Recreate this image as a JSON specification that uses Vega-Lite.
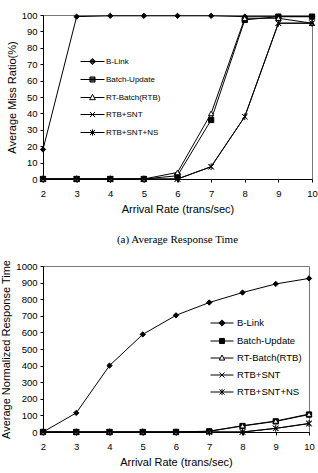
{
  "$schema": "https://vega.github.io/schema/vega-lite/v6.json",
  "padding": {"left": 0, "top": 9, "right": 2, "bottom": 3},
  "background": "white",
  "spacing": 13,
  "datasets": {
    "miss": [
      {"series": "B-Link", "rate": 2, "value": 18},
      {"series": "B-Link", "rate": 3, "value": 99},
      {"series": "B-Link", "rate": 4, "value": 99.5},
      {"series": "B-Link", "rate": 5, "value": 99.5},
      {"series": "B-Link", "rate": 6, "value": 99.5},
      {"series": "B-Link", "rate": 7, "value": 99.5},
      {"series": "B-Link", "rate": 8, "value": 99},
      {"series": "B-Link", "rate": 9, "value": 99},
      {"series": "B-Link", "rate": 10, "value": 99},
      {"series": "Batch-Update", "rate": 2, "value": 0},
      {"series": "Batch-Update", "rate": 3, "value": 0},
      {"series": "Batch-Update", "rate": 4, "value": 0},
      {"series": "Batch-Update", "rate": 5, "value": 0},
      {"series": "Batch-Update", "rate": 6, "value": 2},
      {"series": "Batch-Update", "rate": 7, "value": 36},
      {"series": "Batch-Update", "rate": 8, "value": 97},
      {"series": "Batch-Update", "rate": 9, "value": 99},
      {"series": "Batch-Update", "rate": 10, "value": 99},
      {"series": "RT-Batch(RTB)", "rate": 2, "value": 0},
      {"series": "RT-Batch(RTB)", "rate": 3, "value": 0},
      {"series": "RT-Batch(RTB)", "rate": 4, "value": 0},
      {"series": "RT-Batch(RTB)", "rate": 5, "value": 0},
      {"series": "RT-Batch(RTB)", "rate": 6, "value": 4},
      {"series": "RT-Batch(RTB)", "rate": 7, "value": 40},
      {"series": "RT-Batch(RTB)", "rate": 8, "value": 98},
      {"series": "RT-Batch(RTB)", "rate": 9, "value": 98},
      {"series": "RT-Batch(RTB)", "rate": 10, "value": 95},
      {"series": "RTB+SNT", "rate": 2, "value": 0},
      {"series": "RTB+SNT", "rate": 3, "value": 0},
      {"series": "RTB+SNT", "rate": 4, "value": 0},
      {"series": "RTB+SNT", "rate": 5, "value": 0},
      {"series": "RTB+SNT", "rate": 6, "value": 0},
      {"series": "RTB+SNT", "rate": 7, "value": 7.5},
      {"series": "RTB+SNT", "rate": 8, "value": 38},
      {"series": "RTB+SNT", "rate": 9, "value": 95},
      {"series": "RTB+SNT", "rate": 10, "value": 95},
      {"series": "RTB+SNT+NS", "rate": 2, "value": 0},
      {"series": "RTB+SNT+NS", "rate": 3, "value": 0},
      {"series": "RTB+SNT+NS", "rate": 4, "value": 0},
      {"series": "RTB+SNT+NS", "rate": 5, "value": 0},
      {"series": "RTB+SNT+NS", "rate": 6, "value": 0},
      {"series": "RTB+SNT+NS", "rate": 7, "value": 7.5},
      {"series": "RTB+SNT+NS", "rate": 8, "value": 38},
      {"series": "RTB+SNT+NS", "rate": 9, "value": 95},
      {"series": "RTB+SNT+NS", "rate": 10, "value": 95}
    ],
    "resp": [
      {"series": "B-Link", "rate": 2, "value": 0},
      {"series": "B-Link", "rate": 3, "value": 115},
      {"series": "B-Link", "rate": 4, "value": 400},
      {"series": "B-Link", "rate": 5, "value": 588},
      {"series": "B-Link", "rate": 6, "value": 703},
      {"series": "B-Link", "rate": 7, "value": 780},
      {"series": "B-Link", "rate": 8, "value": 840},
      {"series": "B-Link", "rate": 9, "value": 892},
      {"series": "B-Link", "rate": 10, "value": 925},
      {"series": "Batch-Update", "rate": 2, "value": 0},
      {"series": "Batch-Update", "rate": 3, "value": 0},
      {"series": "Batch-Update", "rate": 4, "value": 0},
      {"series": "Batch-Update", "rate": 5, "value": 0},
      {"series": "Batch-Update", "rate": 6, "value": 0},
      {"series": "Batch-Update", "rate": 7, "value": 4},
      {"series": "Batch-Update", "rate": 8, "value": 36},
      {"series": "Batch-Update", "rate": 9, "value": 64},
      {"series": "Batch-Update", "rate": 10, "value": 105},
      {"series": "RT-Batch(RTB)", "rate": 2, "value": 0},
      {"series": "RT-Batch(RTB)", "rate": 3, "value": 0},
      {"series": "RT-Batch(RTB)", "rate": 4, "value": 0},
      {"series": "RT-Batch(RTB)", "rate": 5, "value": 0},
      {"series": "RT-Batch(RTB)", "rate": 6, "value": 0},
      {"series": "RT-Batch(RTB)", "rate": 7, "value": 5},
      {"series": "RT-Batch(RTB)", "rate": 8, "value": 38},
      {"series": "RT-Batch(RTB)", "rate": 9, "value": 66},
      {"series": "RT-Batch(RTB)", "rate": 10, "value": 108},
      {"series": "RTB+SNT", "rate": 2, "value": 0},
      {"series": "RTB+SNT", "rate": 3, "value": 0},
      {"series": "RTB+SNT", "rate": 4, "value": 0},
      {"series": "RTB+SNT", "rate": 5, "value": 0},
      {"series": "RTB+SNT", "rate": 6, "value": 0},
      {"series": "RTB+SNT", "rate": 7, "value": 0},
      {"series": "RTB+SNT", "rate": 8, "value": 0},
      {"series": "RTB+SNT", "rate": 9, "value": 22},
      {"series": "RTB+SNT", "rate": 10, "value": 50},
      {"series": "RTB+SNT+NS", "rate": 2, "value": 0},
      {"series": "RTB+SNT+NS", "rate": 3, "value": 0},
      {"series": "RTB+SNT+NS", "rate": 4, "value": 0},
      {"series": "RTB+SNT+NS", "rate": 5, "value": 0},
      {"series": "RTB+SNT+NS", "rate": 6, "value": 0},
      {"series": "RTB+SNT+NS", "rate": 7, "value": 0},
      {"series": "RTB+SNT+NS", "rate": 8, "value": 0},
      {"series": "RTB+SNT+NS", "rate": 9, "value": 22},
      {"series": "RTB+SNT+NS", "rate": 10, "value": 52}
    ]
  },
  "vconcat": [
    {
      "width": 269,
      "height": 164,
      "data": {"name": "miss"},
      "title": {
        "text": "(a) Average Response Time",
        "orient": "bottom",
        "anchor": "middle",
        "font": "Liberation Serif",
        "fontSize": 11,
        "fontWeight": "normal",
        "color": "black",
        "offset": 19
      },
      "encoding": {
        "x": {
          "field": "rate", "type": "quantitative",
          "scale": {"domain": [2, 10]},
          "axis": {"title": "Arrival Rate (trans/sec)", "values": [2, 3, 4, 5, 6, 7, 8, 9, 10]}
        },
        "y": {
          "field": "value", "type": "quantitative",
          "scale": {"domain": [0, 100]},
          "axis": {"title": "Average Miss Ratio(%)", "format": "d", "values": [0, 10, 20, 30, 40, 50, 60, 70, 80, 90, 100]}
        }
      },
      "layer": [
        {
          "mark": {"type": "line", "color": "black", "strokeWidth": 1},
          "encoding": {"detail": {"field": "series"}}
        },
        {
          "mark": {"type": "point", "stroke": "black", "strokeWidth": 1, "size": 28, "opacity": 1},
          "encoding": {
            "shape": {
              "field": "series", "type": "nominal",
              "scale": {
                "domain": ["B-Link", "Batch-Update", "RT-Batch(RTB)", "RTB+SNT", "RTB+SNT+NS"],
                "range": ["diamond", "square", "triangle-up", "M-1,-1L1,1M-1,1L1,-1", "M-1,-1L1,1M-1,1L1,-1M0,-1.3L0,1.3"]
              },
              "legend": null
            },
            "fill": {
              "field": "series", "type": "nominal",
              "scale": {
                "domain": ["B-Link", "Batch-Update", "RT-Batch(RTB)", "RTB+SNT", "RTB+SNT+NS"],
                "range": ["black", "black", "white", "black", "black"]
              },
              "legend": null
            }
          }
        },
        {
          "mark": {"type": "point", "filled": false, "stroke": "black", "strokeWidth": 1, "size": 28, "opacity": 0},
          "encoding": {
            "shape": {
              "field": "series", "type": "nominal",
              "scale": {
                "domain": ["B-Link", "Batch-Update", "RT-Batch(RTB)", "RTB+SNT", "RTB+SNT+NS"],
                "range": [
                  "M-1,0L1,0M0,-0.26L0.26,0L0,0.26L-0.26,0ZM0,-0.18L0.18,0L0,0.18L-0.18,0ZM0,-0.1L0.1,0L0,0.1L-0.1,0Z",
                  "M-1,0L1,0M-0.21,-0.21L0.21,-0.21L0.21,0.21L-0.21,0.21ZM-0.21,-0.13L0.21,-0.13M-0.21,-0.05L0.21,-0.05M-0.21,0.05L0.21,0.05M-0.21,0.13L0.21,0.13",
                  "M-1,0L-0.12,0M0.12,0L1,0M0,-0.26L0.24,0.18L-0.24,0.18Z",
                  "M-1,0L1,0M-0.21,-0.21L0.21,0.21M-0.21,0.21L0.21,-0.21",
                  "M-1,0L1,0M-0.21,-0.21L0.21,0.21M-0.21,0.21L0.21,-0.21M0,-0.26L0,0.26"
                ]
              },
              "legend": {
                "title": null,
                "orient": "none",
                "legendX": 37,
                "legendY": 34,
                "symbolSize": 576,
                "symbolStrokeColor": "black",
                "symbolStrokeWidth": 1,
                "symbolOpacity": 1,
                "rowPadding": -9.5,
                "labelFontSize": 8,
                "labelOffset": 1
              }
            }
          }
        }
      ],
      "resolve": {"scale": {"shape": "independent"}}
    },
    {
      "width": 266,
      "height": 166,
      "data": {"name": "resp"},
      "encoding": {
        "x": {
          "field": "rate", "type": "quantitative",
          "scale": {"domain": [2, 10]},
          "axis": {"title": "Arrival Rate (trans/sec)", "values": [2, 3, 4, 5, 6, 7, 8, 9, 10]}
        },
        "y": {
          "field": "value", "type": "quantitative",
          "scale": {"domain": [0, 1000]},
          "axis": {"title": "Average Normalized Response Time", "format": "d", "values": [0, 100, 200, 300, 400, 500, 600, 700, 800, 900, 1000]}
        }
      },
      "layer": [
        {
          "mark": {"type": "line", "color": "black", "strokeWidth": 1},
          "encoding": {"detail": {"field": "series"}}
        },
        {
          "mark": {"type": "point", "stroke": "black", "strokeWidth": 1, "size": 28, "opacity": 1},
          "encoding": {
            "shape": {
              "field": "series", "type": "nominal",
              "scale": {
                "domain": ["B-Link", "Batch-Update", "RT-Batch(RTB)", "RTB+SNT", "RTB+SNT+NS"],
                "range": ["diamond", "square", "triangle-up", "M-1,-1L1,1M-1,1L1,-1", "M-1,-1L1,1M-1,1L1,-1M0,-1.3L0,1.3"]
              },
              "legend": null
            },
            "fill": {
              "field": "series", "type": "nominal",
              "scale": {
                "domain": ["B-Link", "Batch-Update", "RT-Batch(RTB)", "RTB+SNT", "RTB+SNT+NS"],
                "range": ["black", "black", "white", "black", "black"]
              },
              "legend": null
            }
          }
        },
        {
          "mark": {"type": "point", "filled": false, "stroke": "black", "strokeWidth": 1, "size": 28, "opacity": 0},
          "encoding": {
            "shape": {
              "field": "series", "type": "nominal",
              "scale": {
                "domain": ["B-Link", "Batch-Update", "RT-Batch(RTB)", "RTB+SNT", "RTB+SNT+NS"],
                "range": [
                  "M-1,0L1,0M0,-0.27L0.27,0L0,0.27L-0.27,0ZM0,-0.18L0.18,0L0,0.18L-0.18,0ZM0,-0.09L0.09,0L0,0.09L-0.09,0Z",
                  "M-1,0L1,0M-0.22,-0.22L0.22,-0.22L0.22,0.22L-0.22,0.22ZM-0.22,-0.13L0.22,-0.13M-0.22,-0.045L0.22,-0.045M-0.22,0.045L0.22,0.045M-0.22,0.13L0.22,0.13",
                  "M-1,0L-0.12,0M0.12,0L1,0M0,-0.26L0.24,0.18L-0.24,0.18Z",
                  "M-1,0L1,0M-0.22,-0.22L0.22,0.22M-0.22,0.22L0.22,-0.22",
                  "M-1,0L1,0M-0.22,-0.22L0.22,0.22M-0.22,0.22L0.22,-0.22M0,-0.27L0,0.27"
                ]
              },
              "legend": {
                "title": null,
                "orient": "none",
                "legendX": 167,
                "legendY": 45,
                "symbolSize": 529,
                "symbolStrokeColor": "black",
                "symbolStrokeWidth": 1,
                "symbolOpacity": 1,
                "rowPadding": -5.8,
                "labelFontSize": 9.5,
                "labelOffset": 3
              }
            }
          }
        }
      ],
      "resolve": {"scale": {"shape": "independent"}}
    }
  ],
  "resolve": {"scale": {"shape": "independent", "fill": "independent"}, "legend": {"shape": "independent"}},
  "config": {
    "font": "Liberation Sans",
    "view": {"stroke": "#777", "strokeWidth": 1},
    "axis": {
      "grid": false,
      "domainColor": "black",
      "tickColor": "black",
      "tickSize": 3,
      "labelColor": "black",
      "labelFont": "Liberation Sans",
      "labelFontSize": 9.5,
      "labelPadding": 3,
      "titleColor": "black",
      "titleFont": "Liberation Sans",
      "titleFontSize": 11,
      "titleFontWeight": "normal"
    },
    "axisX": {"labelFlush": false, "labelPadding": 6, "titlePadding": 6},
    "axisY": {"titlePadding": 4},
    "legend": {
      "labelFont": "Liberation Sans",
      "labelColor": "black",
      "padding": 0
    }
  }
}
